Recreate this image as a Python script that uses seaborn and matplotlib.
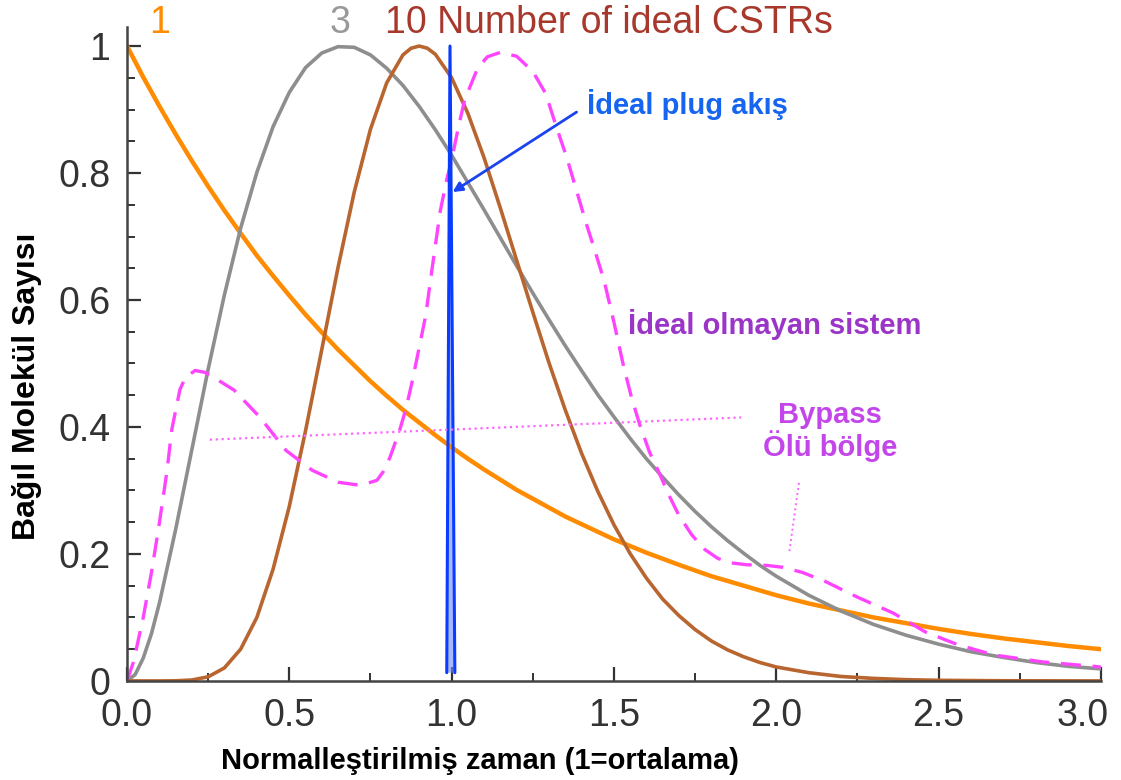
import matplotlib
matplotlib.use("Agg")
import matplotlib.pyplot as plt
import matplotlib.transforms as mtransforms
import seaborn as sns

# Values (normalised time vs relative count)
x_cstr1 = [0.0, 0.05, 0.1, 0.15, 0.2, 0.25, 0.3, 0.35, 0.4, 0.45, 0.5, 0.55, 0.6, 0.65, 0.7,
           0.75, 0.8, 0.85, 0.9, 0.95, 1.0, 1.05, 1.1, 1.15, 1.2, 1.25, 1.3, 1.35, 1.4, 1.45,
           1.5, 1.6, 1.7, 1.8, 1.9, 2.0, 2.1, 2.2, 2.3, 2.4, 2.5, 2.6, 2.7, 2.8, 2.9, 3.0]
y_cstr1 = [1.0, 0.951, 0.905, 0.861, 0.819, 0.779, 0.741, 0.705, 0.670, 0.638, 0.607, 0.577,
           0.549, 0.522, 0.497, 0.472, 0.449, 0.427, 0.407, 0.387, 0.368, 0.350, 0.333, 0.317,
           0.301, 0.287, 0.273, 0.259, 0.247, 0.235, 0.223, 0.202, 0.183, 0.165, 0.150, 0.135,
           0.122, 0.111, 0.100, 0.091, 0.082, 0.074, 0.067, 0.061, 0.055, 0.050]

x_cstr3 = [0.0, 0.025, 0.05, 0.075, 0.1, 0.15, 0.2, 0.25, 0.3, 0.35, 0.4, 0.45, 0.5, 0.55, 0.6,
           0.65, 0.7, 0.75, 0.8, 0.85, 0.9, 0.95, 1.0, 1.05, 1.1, 1.15, 1.2, 1.25, 1.3, 1.35,
           1.4, 1.45, 1.5, 1.55, 1.6, 1.65, 1.7, 1.75, 1.8, 1.85, 1.9, 1.95, 2.0, 2.1, 2.2,
           2.3, 2.4, 2.5, 2.6, 2.7, 2.8, 2.9, 3.0]
y_cstr3 = [0.0, 0.010, 0.036, 0.074, 0.123, 0.239, 0.365, 0.491, 0.608, 0.713, 0.801, 0.873,
           0.927, 0.966, 0.989, 0.999, 0.998, 0.986, 0.965, 0.938, 0.905, 0.868, 0.828, 0.785,
           0.742, 0.698, 0.654, 0.611, 0.569, 0.528, 0.489, 0.451, 0.416, 0.382, 0.350, 0.321,
           0.293, 0.267, 0.243, 0.221, 0.201, 0.182, 0.165, 0.135, 0.110, 0.089, 0.072, 0.058,
           0.046, 0.037, 0.029, 0.023, 0.019]

x_cstr10 = [0.0, 0.05, 0.1, 0.15, 0.2, 0.25, 0.3, 0.35, 0.4, 0.45, 0.5, 0.55, 0.6, 0.65, 0.7,
            0.75, 0.8, 0.85, 0.875, 0.9, 0.925, 0.95, 1.0, 1.05, 1.1, 1.15, 1.2, 1.25, 1.3,
            1.35, 1.4, 1.45, 1.5, 1.55, 1.6, 1.65, 1.7, 1.75, 1.8, 1.85, 1.9, 1.95, 2.0, 2.1,
            2.2, 2.3, 2.4, 2.5, 2.6, 2.7, 2.8, 2.9, 3.0]
y_cstr10 = [0.0, 0.0, 0.0, 0.0002, 0.0015, 0.0065, 0.0205, 0.050, 0.100, 0.176, 0.275, 0.394,
            0.522, 0.651, 0.770, 0.869, 0.942, 0.986, 0.9965, 1.0, 0.9966, 0.987, 0.950, 0.894,
            0.824, 0.745, 0.663, 0.581, 0.501, 0.427, 0.359, 0.299, 0.246, 0.2005, 0.162, 0.129,
            0.103, 0.081, 0.063, 0.049, 0.038, 0.029, 0.022, 0.013, 0.007, 0.004, 0.002, 0.001,
            0.0006, 0.0003, 0.0002, 0.0001, 0.0]

x_nonideal = [0.0, 0.02, 0.05, 0.075, 0.098, 0.123, 0.138, 0.163, 0.18, 0.21, 0.24, 0.28,
              0.33, 0.41, 0.49, 0.57, 0.65, 0.72, 0.77, 0.79, 0.81, 0.84, 0.86, 0.88, 0.90,
              0.92, 0.94, 0.965, 0.985, 1.0, 1.02, 1.04, 1.08, 1.11, 1.15, 1.2, 1.25, 1.29,
              1.32, 1.355, 1.385, 1.415, 1.44, 1.47, 1.5, 1.53, 1.555, 1.58, 1.61, 1.64, 1.67,
              1.70, 1.74, 1.78, 1.82, 1.86, 1.91, 1.97, 2.02, 2.08, 2.15, 2.25, 2.36, 2.46,
              2.56, 2.67, 2.82, 3.0]
y_nonideal = [0.0, 0.03, 0.10, 0.17, 0.243, 0.33, 0.396, 0.459, 0.478, 0.489, 0.486, 0.474,
              0.458, 0.415, 0.363, 0.332, 0.313, 0.308, 0.316, 0.33, 0.352, 0.395, 0.43, 0.475,
              0.525, 0.575, 0.65, 0.74, 0.79, 0.82, 0.87, 0.915, 0.965, 0.983, 0.99, 0.984,
              0.96, 0.925, 0.877, 0.824, 0.772, 0.72, 0.68, 0.63, 0.565, 0.495, 0.445, 0.403,
              0.36, 0.327, 0.292, 0.261, 0.23, 0.207, 0.193, 0.186, 0.183, 0.182, 0.179, 0.171,
              0.157, 0.132, 0.107, 0.077, 0.057, 0.041, 0.03, 0.022]

x_plug = [0.985, 0.995, 1.01]
y_plug = [0.013, 1.0, 0.013]

x_ticks = [0.0, 0.5, 1.0, 1.5, 2.0, 2.5, 3.0]
x_ticklabels = ["0.0", "0.5", "1.0", "1.5", "2.0", "2.5", "3.0"]
y_ticks = [0.0, 0.2, 0.4, 0.6, 0.8, 1.0]
y_ticklabels = ["0", "0.2", "0.4", "0.6", "0.8", "1"]

sns.set_theme(style="ticks")
plt.rcParams['font.family'] = ['Liberation Sans', 'DejaVu Sans']

fig = plt.figure(figsize=(11.21, 7.80), dpi=100)
ax = fig.add_axes([0.1133, 0.127, 0.8687, 0.8384])

sns.lineplot(x=x_cstr1, y=y_cstr1, ax=ax, color="#ff8c00", lw=3.2)
sns.lineplot(x=x_cstr3, y=y_cstr3, ax=ax, color="#8e8e8e", lw=2.6)
sns.lineplot(x=x_cstr10, y=y_cstr10, ax=ax, color="#b8652f", lw=2.6)
sns.lineplot(x=x_nonideal, y=y_nonideal, ax=ax, color="#ff44ff", lw=2.4, linestyle="--")
ax.lines[-1].set_dashes((6, 3.5))

# plug flow spike
ax.fill(x_plug, y_plug, color="#6f8cff", alpha=0.6, lw=0)
sns.lineplot(x=x_plug, y=y_plug, ax=ax, color="#0a3cff", lw=2.2)

# pointer lines
ax.plot([0.255, 1.892], [0.38, 0.415], color="#ff66ff", lw=1.6, linestyle=":")
ax.plot([2.07, 2.04], [0.312, 0.202], color="#ff66ff", lw=1.4, linestyle=":")
ax.annotate("", xy=(1.003, 0.77), xytext=(1.385, 0.896),
            arrowprops=dict(arrowstyle="-|>", color="#1a44f0", lw=2.0,
                            mutation_scale=14, shrinkA=0, shrinkB=0))

ax.set_xlim(0, 3)
ax.set_ylim(0, 1.03)
ax.set_xticks(x_ticks)
ax.set_xticklabels(x_ticklabels)
ax.set_yticks(y_ticks)
ax.set_yticklabels(y_ticklabels)
ax.set_xticks([0.25, 0.75, 1.25, 1.75, 2.25, 2.75], minor=True)
ax.set_yticks([i * 0.05 for i in range(21) if i % 4 != 0], minor=True)
ax.tick_params(which="major", direction="in", length=10, width=1.6, colors="#333333",
               labelsize=27)
ax.tick_params(which="minor", direction="in", length=6, width=1.4, colors="#333333")
ax.tick_params(axis="x", pad=12)
ax.tick_params(axis="y", pad=12)
sns.despine(ax=ax)
for side in ["left", "bottom"]:
    ax.spines[side].set_color("#444444")
    ax.spines[side].set_linewidth(1.8)

# last x tick label sits a little left of its tick, as in the reference
last = ax.get_xticklabels()[-1]
last.set_horizontalalignment("right")
last.set_transform(last.get_transform() + mtransforms.ScaledTranslation(8 / 100, 0, fig.dpi_scale_trans))

ax.set_xlabel("Normalleştirilmiş zaman (1=ortalama)", fontsize=21, fontweight="bold",
              color="black", labelpad=10, x=0.362)
ax.set_ylabel("Bağıl Molekül Sayısı", fontsize=23, fontweight="bold", color="black",
              labelpad=12, y=0.451)

# curve labels
ax.text(0.10, 1.036, "1", color="#ff8c00", fontsize=27, va="center", ha="center", clip_on=False)
ax.text(0.655, 1.036, "3", color="#999999", fontsize=27, va="center", ha="center", clip_on=False)
ax.text(0.794, 1.036, "10 Number of ideal CSTRs", color="#a8372c", fontsize=27, va="center",
        ha="left", clip_on=False)
ax.text(1.418, 0.908, "İdeal plug akış", color="#1565f0", fontsize=21, fontweight="bold",
        va="center", ha="left")
ax.text(1.542, 0.561, "İdeal olmayan sistem", color="#9b35c8", fontsize=21, fontweight="bold",
        va="center", ha="left")
ax.text(2.166, 0.393, "Bypass\nÖlü bölge", color="#c346ea", fontsize=21, fontweight="bold",
        va="center", ha="center", linespacing=1.05)

fig.savefig("out.png", dpi=100)
